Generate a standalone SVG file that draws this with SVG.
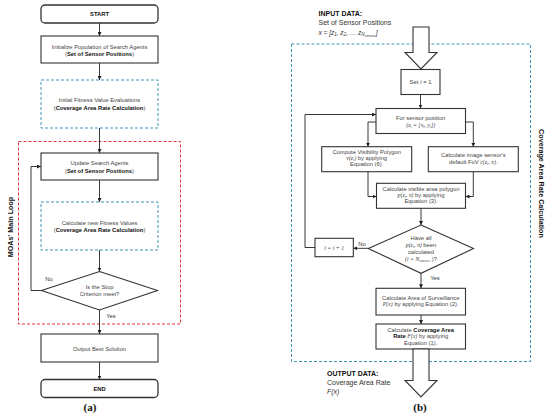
<svg xmlns="http://www.w3.org/2000/svg" width="550" height="417" viewBox="0 0 550 417">
<defs>
<marker id="ah" viewBox="0 0 6 6" refX="6" refY="3" markerWidth="4" markerHeight="4" orient="auto" markerUnits="userSpaceOnUse"><path d="M0,0 L6,3 L0,6 z" fill="#222"/></marker>
<style>
.box{fill:#fff;stroke:#333;stroke-width:1.1}
.term{fill:#fff;stroke:#333;stroke-width:1.3}
.dblue{fill:none;stroke:#3f95b5;stroke-width:1;stroke-dasharray:3,2}
.dred{fill:none;stroke:#e0353a;stroke-width:1;stroke-dasharray:3,2}
.t{font-family:"Liberation Sans",Arial,sans-serif;font-size:5.8px;fill:#444;text-anchor:middle}
.b{font-weight:bold;fill:#111}
.m{font-family:"Liberation Serif","Times New Roman",serif;font-style:italic}
.lbl{font-family:"Liberation Sans",Arial,sans-serif;font-size:7px;fill:#333}
.side{font-family:"Liberation Sans",Arial,sans-serif;font-size:7.2px;font-weight:bold;fill:#111;text-anchor:middle}
.cap{font-family:"Liberation Serif","Times New Roman",serif;font-size:11px;font-weight:bold;fill:#111;text-anchor:middle}
.c{fill:none;stroke:#222;stroke-width:0.9}
.big{fill:#fff;stroke:#333;stroke-width:1.1}
</style>
</defs>

<!-- Panel (a) -->
<rect id="loopA" class="dred" x="18.5" y="141.5" width="162" height="182.5"/>
<text class="side" transform="translate(13,227) rotate(-90)">MOAs' Main Loop</text>

<g id="connectorsA">
<line class="c" x1="99.5" y1="23" x2="99.5" y2="36" marker-end="url(#ah)"/>
<line class="c" x1="99.5" y1="63" x2="99.5" y2="80" marker-end="url(#ah)"/>
<line class="c" x1="99.5" y1="128" x2="99.5" y2="153" marker-end="url(#ah)"/>
<line class="c" x1="99.5" y1="180" x2="99.5" y2="202" marker-end="url(#ah)"/>
<line class="c" x1="99.5" y1="250" x2="99.5" y2="271.5" marker-end="url(#ah)"/>
<line class="c" x1="99.5" y1="310" x2="99.5" y2="334" marker-end="url(#ah)"/>
<line class="c" x1="99.5" y1="362" x2="99.5" y2="379.5" marker-end="url(#ah)"/>
<polyline class="c" points="41.5,290.5 31,290.5 31,166.5 41,166.5" marker-end="url(#ah)"/>
<text class="t" x="49" y="280.5" style="fill:#333">No</text>
<text class="t" x="111" y="317.5" style="fill:#333">Yes</text>
</g>

<g id="start">
<rect class="term" x="41" y="5" width="117" height="18" rx="4"/>
<text class="t b" x="99.5" y="16.2">START</text>
</g>
<g id="init">
<rect class="box" x="41" y="36" width="117" height="27"/>
<text class="t" x="99.5" y="48.5">Initialize Population of Search Agents</text>
<text class="t" x="99.5" y="55.8">(<tspan class="b">Set of Sensor Positions</tspan>)</text>
</g>
<g id="initFit">
<rect class="dblue" x="41" y="80" width="117" height="48"/>
<text class="t" x="99.5" y="102">Initial Fitness Value Evaluations</text>
<text class="t" x="99.5" y="110">(<tspan class="b">Coverage Area Rate Calculation</tspan>)</text>
</g>
<g id="update">
<rect class="box" x="41" y="153" width="117" height="27"/>
<text class="t" x="99.5" y="165.3">Update Search Agents</text>
<text class="t" x="99.5" y="172.8">(<tspan class="b">Set of Sensor Positions</tspan>)</text>
</g>
<g id="newFit">
<rect class="dblue" x="41" y="202" width="117" height="48"/>
<text class="t" x="99.5" y="224.5">Calculate new Fitness Values</text>
<text class="t" x="99.5" y="232.2">(<tspan class="b">Coverage Area Rate Calculation</tspan>)</text>
</g>
<g id="stop">
<polygon class="box" points="99.5,271.5 157.5,290.5 99.5,310 41.5,290.5"/>
<text class="t" x="99.5" y="288.6">Is the Stop</text>
<text class="t" x="99.5" y="296.4">Criterion meet?</text>
</g>
<g id="output">
<rect class="box" x="41" y="334" width="117" height="28"/>
<text class="t" x="99.5" y="350.6">Output Best Solution</text>
</g>
<g id="end">
<rect class="term" x="41" y="379.5" width="117" height="18" rx="4"/>
<text class="t b" x="99.5" y="390.7">END</text>
</g>
<text class="cap" x="90" y="411">(a)</text>

<!-- Panel (b) -->
<rect id="covBox" class="dblue" x="291.5" y="44" width="239" height="317.5"/>
<text class="side" transform="translate(538.5,183.5) rotate(90)">Coverage Area Rate Calculation</text>

<g id="inputData">
<text class="lbl" x="318.5" y="15.5" style="font-weight:bold;fill:#111">INPUT DATA:</text>
<text class="lbl" x="318.5" y="24.8">Set of Sensor Positions</text>
<text class="lbl m" x="318.5" y="34.5" style="font-size:6.5px">x = [z<tspan font-size="4.5" dy="1.2">1</tspan><tspan dy="-1.2">, z</tspan><tspan font-size="4.5" dy="1.2">2</tspan><tspan dy="-1.2">, … z</tspan><tspan font-size="4.5" dy="1.2">N</tspan><tspan font-size="3.2" dy="0.8">sensors</tspan><tspan dy="-2">]</tspan></text>
<polygon class="big" points="413,27 429,27 429,52.5 437,52.5 421,69 405,52.5 413,52.5"/>
</g>

<g id="connectorsB">
<line class="c" x1="420.5" y1="94.5" x2="420.5" y2="108.5" marker-end="url(#ah)"/>
<polyline class="c" points="376,122 368,122 368,146.7" marker-end="url(#ah)"/>
<polyline class="c" points="465.5,122 473.3,122 473.3,146.7" marker-end="url(#ah)"/>
<polyline class="c" points="368,171.7 368,196.5 376.5,196.5" marker-end="url(#ah)"/>
<polyline class="c" points="473.3,171.7 473.3,196.5 465.5,196.5" marker-end="url(#ah)"/>
<line class="c" x1="421" y1="208.3" x2="421" y2="225" marker-end="url(#ah)"/>
<line class="c" x1="368.3" y1="248.3" x2="353.3" y2="248.3" marker-end="url(#ah)"/>
<polyline class="c" points="315,247.5 305,247.5 305,114.5 376,114.5" marker-end="url(#ah)"/>
<line class="c" x1="421" y1="273.3" x2="421" y2="288.3" marker-end="url(#ah)"/>
<line class="c" x1="421" y1="315" x2="421" y2="324" marker-end="url(#ah)"/>
<text class="t" x="362" y="246" style="fill:#333">No</text>
<text class="t" x="435" y="279.5" style="fill:#333">Yes</text>
</g>

<g id="setI">
<rect class="box" x="401" y="69.5" width="39" height="25"/>
<text class="t" x="420.5" y="84.3">Set <tspan class="m">i</tspan> = 1</text>
</g>
<g id="forSensor">
<rect class="box" x="376" y="108.5" width="89.5" height="25"/>
<text class="t" x="420.7" y="119.8">For sensor position</text>
<text class="t m" x="420.7" y="127.3">(z<tspan font-size="4" dy="1">i</tspan><tspan dy="-1"> = [x</tspan><tspan font-size="4" dy="1">i</tspan><tspan dy="-1">, y</tspan><tspan font-size="4" dy="1">i</tspan><tspan dy="-1">])</tspan></text>
</g>
<g id="visPoly">
<rect class="box" x="321.7" y="146.7" width="90" height="25"/>
<text class="t" x="366.7" y="153.6">Compute Visibility Polygon</text>
<text class="t" x="366.7" y="159.6"><tspan class="m">v</tspan><tspan class="m">(z</tspan><tspan class="m" font-size="4" dy="1">i</tspan><tspan class="m" dy="-1">)</tspan> by applying</text>
<text class="t" x="366.7" y="165.6">Equation (6).</text>
</g>
<g id="fov">
<rect class="box" x="428.3" y="146.7" width="90" height="25"/>
<text class="t" x="473.3" y="157">Calculate image sensor's</text>
<text class="t" x="473.3" y="164.3">default FoV <tspan class="m">c(z</tspan><tspan class="m" font-size="4" dy="1">i</tspan><tspan class="m" dy="-1">, π)</tspan>.</text>
</g>
<g id="visArea">
<rect class="box" x="376.5" y="183.3" width="89" height="25"/>
<text class="t" x="421" y="191">Calculate visible area polygon</text>
<text class="t" x="421" y="197"><tspan class="m">p(z</tspan><tspan class="m" font-size="4" dy="1">i</tspan><tspan class="m" dy="-1">, π)</tspan> by applying</text>
<text class="t" x="421" y="203">Equation (3).</text>
</g>
<g id="allCalc">
<polygon class="box" points="421,225 473.5,248.5 421,273.3 368.3,248.5"/>
<text class="t" x="421" y="240.2">Have all</text>
<text class="t" x="421" y="247"><tspan class="m">p(z</tspan><tspan class="m" font-size="4" dy="1">i</tspan><tspan class="m" dy="-1">, π)</tspan> been</text>
<text class="t" x="421" y="254">calculated</text>
<text class="t" x="421" y="261"><tspan class="m">(i = N</tspan><tspan class="m" font-size="3.6" dy="1">sensors</tspan><tspan dy="-1"> )?</tspan></text>
</g>
<g id="incI">
<rect class="box" x="315" y="238.3" width="38.3" height="18.4"/>
<text class="t m" x="334.2" y="249.5">i = i + 1</text>
</g>
<g id="area">
<rect class="box" x="376" y="288.3" width="89.5" height="26.7"/>
<text class="t" x="420.7" y="299.5">Calculate Area of Surveillance</text>
<text class="t" x="420.7" y="305.5"><tspan class="m">P(x)</tspan> by applying Equation (2).</text>
</g>
<g id="rate">
<rect class="box" x="376" y="324" width="89.5" height="25"/>
<text class="t" x="420.7" y="331.5">Calculate <tspan class="b">Coverage Area</tspan></text>
<text class="t" x="420.7" y="338"><tspan class="b">Rate</tspan> <tspan class="m">F(x)</tspan> by applying</text>
<text class="t" x="420.7" y="344.5">Equation (1).</text>
</g>

<g id="outputData">
<polygon class="big" points="413,349 429,349 429,380.5 437,380.5 421,397 405,380.5 413,380.5"/>
<text class="lbl" x="327" y="375.5" style="font-weight:bold;fill:#111">OUTPUT DATA:</text>
<text class="lbl" x="327" y="384.5">Coverage Area Rate</text>
<text class="lbl m" x="327" y="393.5">F(x)</text>
</g>
<text class="cap" x="420" y="411">(b)</text>
</svg>
